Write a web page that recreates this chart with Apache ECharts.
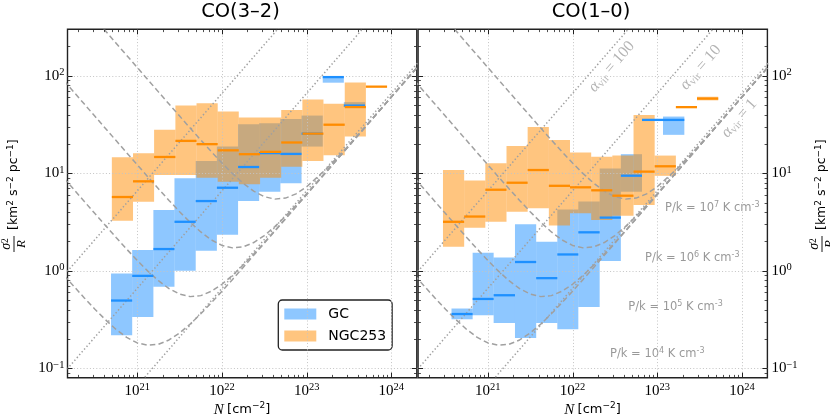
<!DOCTYPE html>
<html><head><meta charset="utf-8">
<script src="https://cdn.jsdelivr.net/npm/echarts@6/dist/echarts.min.js"></script>
<style>html,body{margin:0;padding:0;background:#fff}#c{width:830px;height:420px}</style>
</head><body><div id="c"></div>
<script>
// ---------- axis ranges / tick labels ----------
const xMin = 1.5e20, xMax = 2e24;
const yMin = 0.08, yMax = 300;
const xMajorTicks = [1e21, 1e22, 1e23, 1e24];
const yMajorTicks = [0.1, 1, 10, 100];
const panelTitles = ['CO(3–2)', 'CO(1–0)'];
const seriesNames = ['GC', 'NGC253'];

// ---------- CO(3-2) : GC ----------
const co32GcEdges = [4.90e20, 8.71e20, 1.55e21, 2.75e21, 4.90e21, 8.71e21, 1.55e22, 2.75e22, 4.90e22, 8.71e22, 1.55e23, 2.75e23, 4.90e23];
const co32GcMed = [0.495, 0.887, 1.67, 3.18, 5.19, 7.11, 11.6, 16.1, 15.8, 25.5, 97, 49.5];
const co32GcLo  = [0.218, 0.336, 0.684, 1.0, 1.60, 2.34, 5.19, 6.47, 7.89, 18.8, 85, 47.7];
const co32GcHi  = [0.94, 1.63, 4.2, 8.89, 13.4, 18.8, 31.9, 32.7, 36.1, 39.1, 99, 53.7];
// ---------- CO(3-2) : NGC253 ----------
const co32NgcEdges = [5.01e20, 8.91e20, 1.58e21, 2.82e21, 5.01e21, 8.91e21, 1.58e22, 2.82e22, 5.01e22, 8.91e22, 1.58e23, 2.82e23, 5.01e23, 8.91e23];
const co32NgcMed = [5.71, 8.27, 14.7, 21.5, 19.9, 17.2, 15.7, 16.6, 20.7, 25.5, 31.5, 47.8, 77.4];
const co32NgcLo  = [3.26, 5.11, 9.61, 9.61, 9.01, 8.2, 7.71, 9.01, 11.7, 13.4, 15.3, 23.8, 77.4];
const co32NgcHi  = [14.6, 16.1, 27.9, 49.5, 52.4, 43.0, 37.4, 37.3, 44.7, 57.3, 51.6, 85.4, 77.4];
// ---------- CO(1-0) : GC ----------
const co10GcEdges = [3.72e20, 6.61e20, 1.17e21, 2.09e21, 3.72e21, 6.61e21, 1.17e22, 2.09e22, 3.72e22, 6.61e22, 1.17e23, 2.09e23];
const co10GcMed = [0.36, 0.514, 0.561, 1.23, 0.84, 1.47, 2.48, 3.51, 9.45, 35.3, 35.3];
const co10GcLo  = [0.318, 0.35, 0.292, 0.204, 0.292, 0.251, 0.426, 1.26, 6.47, 35.3, 24.8];
const co10GcHi  = [0.41, 1.53, 1.37, 3.0, 1.98, 4.25, 5.15, 11.2, 15.7, 35.3, 38.2];
// ---------- CO(1-0) : NGC253 ----------
const co10NgcEdges = [2.95e20, 5.25e20, 9.33e20, 1.66e21, 2.95e21, 5.25e21, 9.33e21, 1.66e22, 2.95e22, 5.25e22, 9.33e22, 1.66e23, 2.95e23, 5.25e23];
const co10NgcMed = [3.18, 3.6, 6.78, 8.0, 10.8, 7.44, 7.18, 6.69, 5.89, 10.4, 11.8, 47.7, 58.4];
const co10NgcLo  = [1.76, 2.76, 3.18, 4.03, 4.37, 2.91, 3.88, 3.31, 3.66, 4.72, 9.42, 47.7, 56.0];
const co10NgcHi  = [10.8, 8.43, 12.7, 19.1, 29.9, 22.0, 16.3, 14.8, 15.2, 39.7, 15.2, 47.7, 61.0];

// ---------- reference lines ----------
const virN = [1e20, 1e25];
const vir1 = [0.0066, 661];
const vir10 = [0.066, 6610];
const vir100 = [0.66, 66100];
const curveN = [1e20, 1.334e20, 1.778e20, 2.371e20, 3.162e20, 4.217e20, 5.623e20, 7.499e20,
  1e21, 1.334e21, 1.778e21, 2.371e21, 3.162e21, 4.217e21, 5.623e21, 7.499e21,
  1e22, 1.334e22, 1.778e22, 2.371e22, 3.162e22, 4.217e22, 5.623e22, 7.499e22,
  1e23, 1.778e23, 3.162e23, 1e24, 3.162e24];
const pk1e4 = [1.221, 0.919, 0.694, 0.527, 0.403, 0.314, 0.250, 0.207,
  0.182, 0.172, 0.176, 0.195, 0.230, 0.284, 0.362, 0.470,
  0.617, 0.816, 1.083, 1.440, 1.917, 2.554, 3.404, 4.538,
  6.051, 10.76, 19.13, 60.5, 191.3];
const pk1e5 = [12.16, 9.119, 6.843, 5.138, 3.861, 2.907, 2.195, 1.666,
  1.276, 0.992, 0.791, 0.656, 0.576, 0.543, 0.556, 0.616,
  0.727, 0.898, 1.144, 1.486, 1.952, 2.580, 3.424, 4.553,
  6.062, 10.77, 19.14, 60.5, 191.3];
const pk1e6 = [121.5, 91.12, 68.34, 51.25, 38.44, 28.84, 21.64, 16.25,
  12.21, 9.19, 6.94, 5.267, 4.034, 3.136, 2.501, 2.074,
  1.820, 1.718, 1.759, 1.947, 2.297, 2.839, 3.618, 4.699,
  6.172, 10.83, 19.17, 60.51, 191.3];
const pk1e7 = [1215, 911.1, 683.3, 512.4, 384.2, 288.1, 216.1, 162.1,
  121.6, 91.19, 68.43, 51.38, 38.61, 29.07, 21.95, 16.66,
  12.76, 9.918, 7.908, 6.558, 5.755, 5.432, 5.563, 6.157,
  7.265, 11.44, 19.52, 60.62, 191.4];

// ---------- styling ----------
const BLUE = '#1E90FF', ORANGE = '#FF8C00';
const BLUE_FILL = 'rgba(30,144,255,0.5)', ORANGE_FILL = 'rgba(255,140,0,0.5)';
const REF = '#a0a0a0';
const SERIF = '"Liberation Serif", "DejaVu Serif", serif';
const SANS = '"DejaVu Sans", sans-serif';

const grids = [
  {left: 67.5, top: 29.3, width: 349.3, height: 348.4, show: true, borderColor: '#222', borderWidth: 1.4},
  {left: 418.1, top: 29.3, width: 349.3, height: 348.4, show: true, borderColor: '#222', borderWidth: 1.4}
];

function pow10Label(v) {
  const e = Math.log10(v);
  if (Math.abs(e - Math.round(e)) > 1e-6) return '';
  const n = Math.round(e);
  return '{b|10}{s|' + (n < 0 ? '\u2212' + (-n) : n) + '}';
}
const labelRich = {
  b: {fontFamily: SERIF, fontSize: 15, lineHeight: 18, color: '#000', verticalAlign: 'middle'},
  s: {fontFamily: SERIF, fontSize: 10.5, lineHeight: 10, color: '#000', verticalAlign: 'top'}
};

const xAxes = [0, 1].map(i => ({
  type: 'log', logBase: 10, gridIndex: i, min: xMin, max: xMax,
  axisLine: {show: false}, axisTick: {show: false}, splitLine: {show: false},
  axisLabel: {formatter: pow10Label, rich: labelRich, margin: 4, showMinLabel: false, showMaxLabel: false}
}));
const yAxes = [0, 1].map(i => ({
  type: 'log', logBase: 10, gridIndex: i, min: yMin, max: yMax,
  position: i === 0 ? 'left' : 'right',
  axisLine: {show: false}, axisTick: {show: false}, splitLine: {show: false},
  axisLabel: {formatter: pow10Label, rich: labelRich, margin: i === 0 ? 3 : 4, showMinLabel: false, showMaxLabel: false}
}));

// tick list built from the axis ranges
function buildTicks() {
  const t = [];
  for (let d = 20; d <= 24; d++) for (let k = 1; k <= 9; k++) {
    const v = k * Math.pow(10, d);
    if (v > xMin * 1.001 && v < xMax * 0.999) t.push([v, 1, 0, k === 1 ? 1 : 0]);
  }
  for (let d = -2; d <= 2; d++) for (let k = 1; k <= 9; k++) {
    const v = k * Math.pow(10, d);
    if (v > yMin * 1.001 && v < yMax * 0.999) t.push([1e22, v, 1, k === 1 ? 1 : 0]);
  }
  return t;
}
const tickData = buildTicks();

function tickRender(params, api) {
  const cs = params.coordSys;
  const isY = api.value(2) === 1, major = api.value(3) === 1;
  const len = major ? 5 : 2.8;
  const st = {stroke: '#222', lineWidth: major ? 1 : 0.8};
  const ch = [];
  if (!isY) {
    const px = Math.round(api.coord([api.value(0), 1])[0]) + 0.5;
    const b = cs.y + cs.height, t = cs.y;
    ch.push({type: 'line', shape: {x1: px, y1: b, x2: px, y2: b - len}, style: st});
    ch.push({type: 'line', shape: {x1: px, y1: t, x2: px, y2: t + len}, style: st});
  } else {
    const py = Math.round(api.coord([1e22, api.value(1)])[1]) + 0.5;
    const l = cs.x, r = cs.x + cs.width;
    ch.push({type: 'line', shape: {x1: l, y1: py, x2: l + len, y2: py}, style: st});
    ch.push({type: 'line', shape: {x1: r, y1: py, x2: r - len, y2: py}, style: st});
  }
  return {type: 'group', children: ch};
}
function gridRender(params, api) {
  if (api.value(3) !== 1) return;
  const cs = params.coordSys;
  const st = {stroke: '#c4c4c4', lineWidth: 1, lineDash: [1, 2.2]};
  if (api.value(2) !== 1) {
    const px = Math.round(api.coord([api.value(0), 1])[0]) + 0.5;
    return {type: 'line', shape: {x1: px, y1: cs.y, x2: px, y2: cs.y + cs.height}, style: st};
  }
  const py = Math.round(api.coord([1e22, api.value(1)])[1]) + 0.5;
  return {type: 'line', shape: {x1: cs.x, y1: py, x2: cs.x + cs.width, y2: py}, style: st};
}

function boxSeries(name, gi, edges, lo, hi, fill, z) {
  return {
    type: 'custom', name, xAxisIndex: gi, yAxisIndex: gi, z, silent: true,
    itemStyle: {color: fill},
    encode: {x: [0, 1], y: [2, 3]},
    data: lo.map((v, i) => [edges[i], edges[i + 1], lo[i], hi[i]]),
    renderItem: (params, api) => {
      const p1 = api.coord([api.value(0), api.value(3)]);
      const p2 = api.coord([api.value(1), api.value(2)]);
      return {type: 'rect', shape: {x: p1[0], y: p1[1], width: p2[0] - p1[0], height: p2[1] - p1[1]}, style: {fill: fill}};
    }
  };
}
function medSeries(name, gi, edges, med, color, z) {
  return {
    type: 'custom', name, xAxisIndex: gi, yAxisIndex: gi, z, silent: true,
    encode: {x: [0, 1], y: 2},
    data: med.map((v, i) => [edges[i], edges[i + 1], v]),
    renderItem: (params, api) => {
      const p1 = api.coord([api.value(0), api.value(2)]);
      const p2 = api.coord([api.value(1), api.value(2)]);
      return {type: 'line', shape: {x1: p1[0], y1: p1[1], x2: p2[0], y2: p2[1]}, style: {stroke: color, lineWidth: 2.3}};
    }
  };
}
function refLine(name, gi, xs, ys, dash) {
  return {
    type: 'line', name, xAxisIndex: gi, yAxisIndex: gi, z: 5, silent: true,
    symbol: 'none', smooth: false, clip: true,
    lineStyle: {color: REF, width: 1.5, type: dash},
    data: xs.map((x, i) => [x, ys[i]])
  };
}

const series = [];
const panels = [
  {gcE: co32GcEdges, gcM: co32GcMed, gcL: co32GcLo, gcH: co32GcHi, nE: co32NgcEdges, nM: co32NgcMed, nL: co32NgcLo, nH: co32NgcHi},
  {gcE: co10GcEdges, gcM: co10GcMed, gcL: co10GcLo, gcH: co10GcHi, nE: co10NgcEdges, nM: co10NgcMed, nL: co10NgcLo, nH: co10NgcHi}
];
panels.forEach((p, gi) => {
  series.push(boxSeries(seriesNames[0], gi, p.gcE, p.gcL, p.gcH, BLUE_FILL, 2));
  series.push(boxSeries(seriesNames[1], gi, p.nE, p.nL, p.nH, ORANGE_FILL, 3));
  series.push({type: 'custom', name: 'grid' + gi, xAxisIndex: gi, yAxisIndex: gi, z: 4, silent: true,
    encode: {x: 0, y: 1}, data: tickData, renderItem: gridRender});
  const dashed = [5.5, 3.2], dotted = [1.4, 2.3];
  [pk1e4, pk1e5, pk1e6, pk1e7].forEach((c, k) => series.push(refLine('P' + k + '_' + gi, gi, curveN, c, dashed)));
  [vir1, vir10, vir100].forEach((c, k) => series.push(refLine('vir' + k + '_' + gi, gi, virN, c, dotted)));
  series.push(medSeries('GC median ' + gi, gi, p.gcE, p.gcM, BLUE, 6));
  series.push(medSeries('NGC253 median ' + gi, gi, p.nE, p.nM, ORANGE, 7));
  series.push({type: 'custom', name: 'ticks' + gi, xAxisIndex: gi, yAxisIndex: gi, z: 8, silent: true,
    encode: {x: 0, y: 1}, data: tickData, renderItem: tickRender});
});

// ---------- text graphics ----------
function yLabel(x, y) {
  return {
    type: 'group', x, y, rotation: Math.PI / 2, silent: true,
    children: [
      {type: 'text', x: 9, y: -1, style: {text: '{i|σ}{s|2}', align: 'center', verticalAlign: 'bottom', fill: '#000',
        rich: {i: {fontFamily: SERIF, fontStyle: 'italic', fontSize: 14, lineHeight: 13, verticalAlign: 'bottom'},
               s: {fontFamily: SERIF, fontSize: 9.5, lineHeight: 8, verticalAlign: 'top'}}}},
      {type: 'line', shape: {x1: 1, y1: 0, x2: 17, y2: 0}, style: {stroke: '#000', lineWidth: 0.9}},
      {type: 'text', x: 9, y: 1.5, style: {text: 'R', align: 'center', verticalAlign: 'top', fill: '#000',
        fontFamily: SERIF, fontStyle: 'italic', fontSize: 13}},
      {type: 'text', x: 23, y: 0, style: {text: '{t|[km}{s|2}{t| s}{s|\u22122}{t| pc}{s|\u22121}{t|]}', align: 'left', verticalAlign: 'middle', fill: '#000',
        rich: {t: {fontFamily: SANS, fontSize: 12.5, lineHeight: 16, verticalAlign: 'middle'},
               s: {fontFamily: SANS, fontSize: 9, lineHeight: 9, verticalAlign: 'top'}}}}
    ]
  };
}
function xLabel(cx) {
  return {type: 'text', x: cx, y: 410, silent: true, style: {
    text: '{n|N} {t|[cm}{s|\u22122}{t|]}', align: 'center', verticalAlign: 'middle', fill: '#000',
    rich: {n: {fontFamily: SERIF, fontStyle: 'italic', fontSize: 15, lineHeight: 18, verticalAlign: 'middle'},
           t: {fontFamily: SANS, fontSize: 13, lineHeight: 18, verticalAlign: 'middle'},
           s: {fontFamily: SANS, fontSize: 9, lineHeight: 9, verticalAlign: 'top'}}}};
}
function virLabel(cx, cy, val) {
  return {type: 'text', x: cx, y: cy, rotation: 0.855, silent: true, style: {
    text: '{a|α}{s|vir}{t| = ' + val + '}', align: 'center', verticalAlign: 'middle', fill: '#b4b4b4',
    rich: {a: {fontFamily: SERIF, fontStyle: 'italic', fontSize: 16, lineHeight: 18, verticalAlign: 'middle', fill: '#b4b4b4'},
           s: {fontFamily: SERIF, fontSize: 11, lineHeight: 11, verticalAlign: 'bottom', fill: '#b4b4b4'},
           t: {fontFamily: SERIF, fontSize: 16, lineHeight: 18, verticalAlign: 'middle', fill: '#b4b4b4'}}}};
}
function pkLabel(x, y, exp) {
  return {type: 'text', x, y, silent: true, style: {
    text: '{t|P/k = 10}{s|' + exp + '}{t| K cm}{s|-3}', align: 'left', verticalAlign: 'middle', fill: '#999',
    rich: {t: {fontFamily: SANS, fontSize: 11.5, lineHeight: 15, verticalAlign: 'middle', fill: '#999'},
           s: {fontFamily: SANS, fontSize: 8, lineHeight: 8, verticalAlign: 'top', fill: '#999'}}}};
}

const graphic = [
  {type: 'text', x: 240.5, y: 12, silent: true, style: {text: panelTitles[0], align: 'center', verticalAlign: 'middle', fontFamily: SANS, fontSize: 19.5, fill: '#000'}},
  {type: 'text', x: 591, y: 12, silent: true, style: {text: panelTitles[1], align: 'center', verticalAlign: 'middle', fontFamily: SANS, fontSize: 19.5, fill: '#000'}},
  yLabel(14, 253),
  yLabel(822, 253),
  xLabel(242),
  xLabel(592.5),
  virLabel(611.7, 66.7, '100'),
  virLabel(700.8, 67.5, '10'),
  virLabel(739.2, 118.3, '1'),
  pkLabel(665, 208.5, '7'),
  pkLabel(645, 258.5, '6'),
  pkLabel(628.3, 307.5, '5'),
  pkLabel(610, 354, '4')
];

const chart = echarts.init(document.getElementById('c'), null, {renderer: 'canvas'});
chart.setOption({
  animation: false,
  backgroundColor: '#fff',
  grid: grids,
  xAxis: xAxes,
  yAxis: yAxes,
  legend: {
    show: true, selectedMode: false, orient: 'vertical', left: 278.3, top: 300,
    data: [{name: seriesNames[0], icon: 'rect'}, {name: seriesNames[1], icon: 'rect'}],
    itemWidth: 32, itemHeight: 11, itemGap: 5,
    padding: [5.5, 6, 5.5, 6],
    borderColor: '#222', borderWidth: 1.3, borderRadius: 4, backgroundColor: '#fff',
    textStyle: {fontFamily: SANS, fontSize: 14, color: '#000', lineHeight: 17, padding: [0, 0, 0, 7]}
  },
  graphic,
  series
});
</script></body></html>
